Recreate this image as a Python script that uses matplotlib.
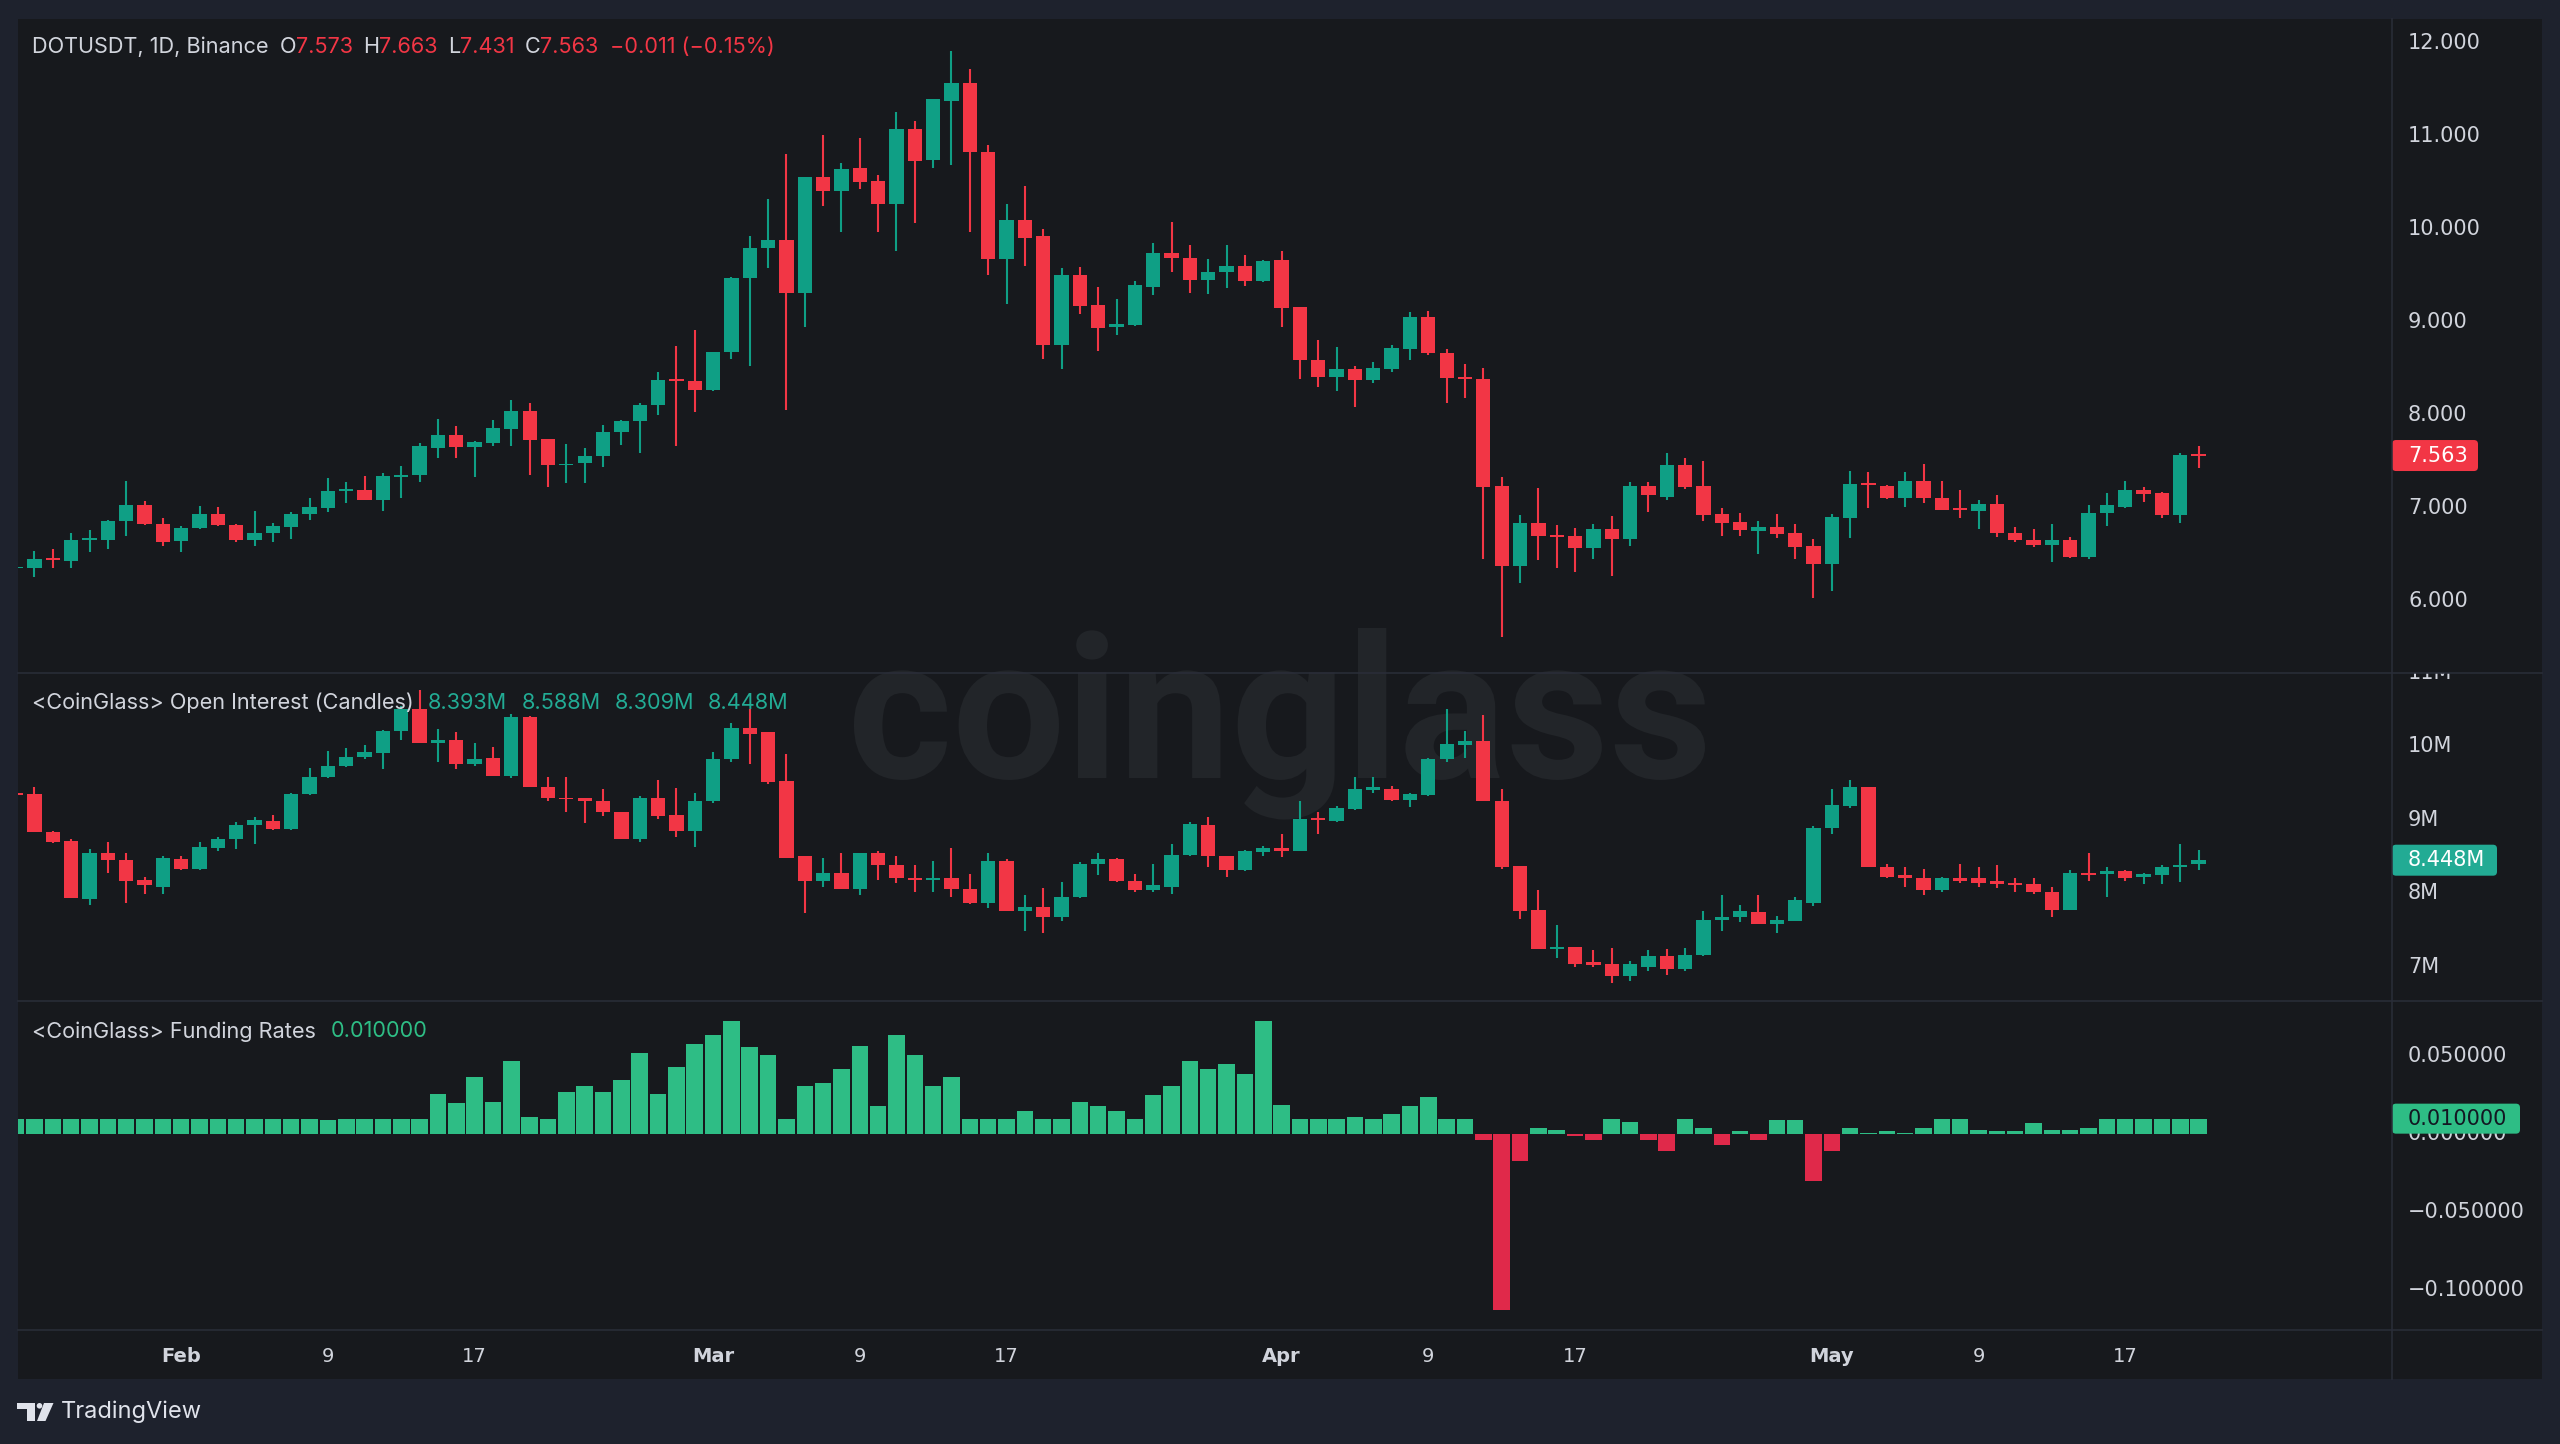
import matplotlib
matplotlib.use('Agg')
import matplotlib.pyplot as plt
import matplotlib.dates as mdates
import matplotlib.transforms as mtransforms
from matplotlib.patches import FancyBboxPatch, PathPatch, Polygon, Circle
from matplotlib.textpath import TextPath
from matplotlib.font_manager import FontProperties
from matplotlib.lines import Line2D
import numpy as np
import pandas as pd

# ---------------------------------------------------------------- data
dates = pd.date_range('2024-01-23', '2024-05-21', freq='D')

# DOTUSDT 1D candles: (open, high, low, close)
price_ohlc = [
    # Jan 23 - 31
    (6.35, 6.37, 6.33, 6.36), (6.35, 6.54, 6.26, 6.45), (6.46, 6.56, 6.35, 6.44),
    (6.43, 6.73, 6.36, 6.66), (6.66, 6.76, 6.53, 6.68), (6.66, 6.87, 6.56, 6.86),
    (6.86, 7.29, 6.70, 7.03), (7.03, 7.07, 6.82, 6.83), (6.83, 6.89, 6.59, 6.63),
    # Feb
    (6.64, 6.81, 6.53, 6.78), (6.78, 7.02, 6.77, 6.93), (6.93, 7.01, 6.81, 6.82),
    (6.82, 6.83, 6.63, 6.66), (6.66, 6.97, 6.59, 6.73), (6.73, 6.84, 6.63, 6.81),
    (6.80, 6.96, 6.67, 6.93), (6.93, 7.11, 6.87, 7.01), (7.00, 7.32, 6.96, 7.18),
    (7.18, 7.28, 7.05, 7.20), (7.19, 7.34, 7.09, 7.09), (7.09, 7.38, 6.97, 7.34),
    (7.33, 7.45, 7.11, 7.35), (7.35, 7.70, 7.28, 7.66), (7.64, 7.96, 7.54, 7.78),
    (7.78, 7.88, 7.54, 7.65), (7.65, 7.72, 7.33, 7.71), (7.70, 7.94, 7.66, 7.86),
    (7.85, 8.16, 7.66, 8.04), (8.04, 8.13, 7.35, 7.73), (7.74, 7.74, 7.23, 7.46),
    (7.46, 7.69, 7.27, 7.47), (7.48, 7.64, 7.27, 7.56), (7.56, 7.89, 7.44, 7.82),
    (7.82, 7.95, 7.68, 7.93), (7.93, 8.13, 7.59, 8.11), (8.11, 8.46, 8.00, 8.37),
    (8.38, 8.74, 7.67, 8.36), (8.36, 8.91, 8.03, 8.27),
    # Mar
    (8.27, 8.68, 8.26, 8.67), (8.67, 9.48, 8.60, 9.47), (9.47, 9.92, 8.53, 9.79),
    (9.79, 10.32, 9.58, 9.88), (9.88, 10.80, 8.05, 9.31), (9.31, 10.56, 8.94, 10.55),
    (10.55, 11.01, 10.24, 10.41), (10.41, 10.71, 9.96, 10.64), (10.65, 10.97, 10.43, 10.50),
    (10.51, 10.58, 9.96, 10.27), (10.27, 11.25, 9.76, 11.07), (11.07, 11.16, 10.06, 10.73),
    (10.74, 11.39, 10.65, 11.39), (11.37, 11.91, 10.68, 11.57), (11.56, 11.72, 9.96, 10.82),
    (10.82, 10.90, 9.50, 9.67), (9.67, 10.26, 9.19, 10.09), (10.09, 10.46, 9.60, 9.90),
    (9.92, 10.00, 8.60, 8.75), (8.75, 9.58, 8.49, 9.50), (9.50, 9.59, 9.08, 9.17),
    (9.18, 9.37, 8.69, 8.93), (8.94, 9.24, 8.86, 8.98), (8.97, 9.44, 8.95, 9.39),
    (9.37, 9.85, 9.29, 9.74), (9.74, 10.07, 9.53, 9.68), (9.69, 9.82, 9.31, 9.45),
    (9.45, 9.67, 9.30, 9.53), (9.53, 9.82, 9.36, 9.60), (9.60, 9.72, 9.38, 9.44),
    (9.44, 9.66, 9.43, 9.65),
    # Apr
    (9.66, 9.76, 8.94, 9.15), (9.16, 9.16, 8.38, 8.59), (8.59, 8.80, 8.30, 8.41),
    (8.41, 8.73, 8.26, 8.49), (8.49, 8.52, 8.08, 8.37), (8.37, 8.57, 8.34, 8.50),
    (8.49, 8.75, 8.46, 8.72), (8.71, 9.11, 8.59, 9.05), (9.05, 9.12, 8.64, 8.66),
    (8.66, 8.71, 8.13, 8.40), (8.41, 8.55, 8.18, 8.38), (8.38, 8.50, 6.45, 7.23),
    (7.24, 7.33, 5.61, 6.38), (6.38, 6.92, 6.19, 6.84), (6.84, 7.21, 6.44, 6.70),
    (6.70, 6.82, 6.36, 6.69), (6.70, 6.78, 6.31, 6.57), (6.57, 6.83, 6.45, 6.77),
    (6.77, 6.91, 6.27, 6.67), (6.67, 7.28, 6.59, 7.24), (7.24, 7.28, 6.96, 7.14),
    (7.12, 7.59, 7.09, 7.46), (7.46, 7.54, 7.20, 7.23), (7.24, 7.50, 6.86, 6.92),
    (6.93, 7.00, 6.70, 6.84), (6.85, 6.95, 6.70, 6.76), (6.75, 6.86, 6.50, 6.80),
    (6.80, 6.94, 6.68, 6.72), (6.73, 6.83, 6.45, 6.58), (6.59, 6.67, 6.03, 6.40),
    # May
    (6.40, 6.93, 6.11, 6.90), (6.89, 7.40, 6.68, 7.26), (7.26, 7.39, 7.00, 7.25),
    (7.24, 7.25, 7.10, 7.11), (7.11, 7.39, 7.01, 7.29), (7.29, 7.47, 7.05, 7.11),
    (7.11, 7.29, 6.98, 6.98), (6.99, 7.19, 6.89, 6.98), (6.97, 7.09, 6.77, 7.04),
    (7.04, 7.14, 6.69, 6.73), (6.73, 6.80, 6.63, 6.66), (6.66, 6.77, 6.58, 6.60),
    (6.60, 6.83, 6.42, 6.66), (6.66, 6.69, 6.46, 6.47), (6.47, 7.03, 6.45, 6.95),
    (6.95, 7.16, 6.81, 7.03), (7.01, 7.29, 7.00, 7.19), (7.19, 7.23, 7.06, 7.15),
    (7.16, 7.17, 6.89, 6.92), (6.92, 7.59, 6.84, 7.574), (7.573, 7.663, 7.431, 7.563),
]

# CoinGlass open interest candles, millions: (open, high, low, close)
oi_ohlc = [
    # Jan 23 - 31
    (9.35, 9.40, 9.32, 9.34), (9.35, 9.45, 8.83, 8.83), (8.83, 8.84, 8.68, 8.70),
    (8.71, 8.74, 7.94, 7.94), (7.92, 8.60, 7.84, 8.55), (8.54, 8.70, 8.27, 8.45),
    (8.45, 8.55, 7.86, 8.17), (8.18, 8.22, 7.99, 8.11), (8.09, 8.51, 7.99, 8.48),
    # Feb
    (8.47, 8.51, 8.32, 8.33), (8.33, 8.70, 8.32, 8.63), (8.61, 8.76, 8.57, 8.73),
    (8.73, 8.97, 8.60, 8.93), (8.93, 9.03, 8.67, 9.00), (8.98, 9.06, 8.86, 8.87),
    (8.87, 9.36, 8.86, 9.35), (9.35, 9.70, 9.33, 9.58), (9.58, 9.94, 9.57, 9.73),
    (9.73, 9.98, 9.72, 9.85), (9.85, 10.01, 9.82, 9.92), (9.91, 10.22, 9.69, 10.21),
    (10.21, 10.54, 10.09, 10.51), (10.51, 10.76, 10.04, 10.04), (10.04, 10.23, 9.79, 10.09),
    (10.09, 10.19, 9.69, 9.76), (9.76, 10.04, 9.73, 9.82), (9.84, 9.99, 9.60, 9.60),
    (9.60, 10.44, 9.56, 10.40), (10.40, 10.41, 9.45, 9.45), (9.45, 9.58, 9.25, 9.29),
    (9.30, 9.58, 9.10, 9.28), (9.29, 9.30, 8.95, 9.26), (9.26, 9.42, 9.05, 9.10),
    (9.11, 9.11, 8.73, 8.74), (8.74, 9.32, 8.70, 9.30), (9.30, 9.54, 9.01, 9.05),
    (9.06, 9.43, 8.76, 8.85), (8.85, 9.36, 8.63, 9.25),
    # Mar
    (9.25, 9.92, 9.23, 9.82), (9.82, 10.31, 9.78, 10.25), (10.25, 10.51, 9.76, 10.17),
    (10.19, 10.19, 9.48, 9.51), (9.52, 9.89, 8.48, 8.48), (8.50, 8.50, 7.73, 8.17),
    (8.17, 8.48, 8.08, 8.28), (8.28, 8.54, 8.05, 8.05), (8.05, 8.55, 7.98, 8.54),
    (8.54, 8.57, 8.18, 8.38), (8.38, 8.51, 8.14, 8.21), (8.21, 8.38, 8.01, 8.18),
    (8.18, 8.44, 8.01, 8.21), (8.21, 8.61, 7.95, 8.05), (8.05, 8.26, 7.85, 7.87),
    (7.87, 8.54, 7.80, 8.44), (8.44, 8.46, 7.75, 7.75), (7.75, 7.98, 7.49, 7.81),
    (7.81, 8.07, 7.46, 7.67), (7.67, 8.15, 7.62, 7.95), (7.95, 8.42, 7.93, 8.40),
    (8.40, 8.54, 8.24, 8.46), (8.46, 8.48, 8.15, 8.17), (8.17, 8.26, 8.02, 8.04),
    (8.04, 8.39, 8.02, 8.11), (8.09, 8.67, 7.99, 8.52), (8.52, 8.97, 8.50, 8.94),
    (8.93, 9.04, 8.36, 8.50), (8.51, 8.51, 8.22, 8.31), (8.31, 8.58, 8.30, 8.57),
    (8.56, 8.64, 8.50, 8.61),
    # Apr
    (8.61, 8.80, 8.49, 8.57), (8.57, 9.25, 8.57, 9.01), (9.01, 9.10, 8.80, 9.00),
    (8.98, 9.19, 8.97, 9.16), (9.14, 9.58, 9.13, 9.42), (9.40, 9.58, 9.36, 9.44),
    (9.42, 9.46, 9.26, 9.27), (9.27, 9.36, 9.17, 9.35), (9.33, 9.84, 9.32, 9.82),
    (9.82, 10.50, 9.79, 10.03), (10.02, 10.21, 9.84, 10.07), (10.07, 10.43, 9.25, 9.25),
    (9.26, 9.42, 8.33, 8.35), (8.37, 8.37, 7.65, 7.75), (7.77, 8.04, 7.24, 7.24),
    (7.24, 7.56, 7.12, 7.27), (7.27, 7.27, 6.99, 7.03), (7.06, 7.22, 7.00, 7.02),
    (7.03, 7.26, 6.78, 6.87), (6.87, 7.08, 6.80, 7.03), (7.00, 7.22, 6.94, 7.14),
    (7.14, 7.24, 6.89, 6.97), (6.97, 7.26, 6.94, 7.16), (7.16, 7.75, 7.14, 7.63),
    (7.63, 7.98, 7.49, 7.68), (7.67, 7.84, 7.61, 7.75), (7.74, 7.98, 7.58, 7.58),
    (7.58, 7.69, 7.46, 7.63), (7.62, 7.95, 7.62, 7.90), (7.87, 8.92, 7.83, 8.89),
    # May
    (8.89, 9.42, 8.80, 9.20), (9.19, 9.54, 9.16, 9.45), (9.45, 9.45, 8.35, 8.35),
    (8.36, 8.40, 8.21, 8.22), (8.24, 8.36, 8.08, 8.20), (8.20, 8.33, 7.98, 8.04),
    (8.04, 8.22, 8.01, 8.20), (8.21, 8.39, 8.14, 8.17), (8.20, 8.36, 8.09, 8.14),
    (8.17, 8.38, 8.07, 8.12), (8.14, 8.21, 8.01, 8.11), (8.12, 8.21, 7.99, 8.01),
    (8.02, 8.08, 7.68, 7.77), (7.77, 8.32, 7.77, 8.28), (8.28, 8.54, 8.17, 8.24),
    (8.26, 8.36, 7.95, 8.30), (8.30, 8.32, 8.17, 8.21), (8.22, 8.28, 8.12, 8.26),
    (8.24, 8.38, 8.12, 8.36), (8.36, 8.67, 8.15, 8.38), (8.393, 8.588, 8.309, 8.448),
]

# CoinGlass funding rate (%)
funding = [
    # Jan 23 - 31
    0.010, 0.010, 0.010, 0.010, 0.010, 0.010, 0.010, 0.010, 0.010,
    # Feb
    0.010, 0.010, 0.010, 0.010, 0.010, 0.010, 0.010, 0.010, 0.009, 0.010,
    0.010, 0.010, 0.010, 0.010, 0.026, 0.020, 0.037, 0.021, 0.047, 0.011,
    0.010, 0.027, 0.031, 0.027, 0.035, 0.052, 0.026, 0.043, 0.058,
    # Mar
    0.064, 0.073, 0.056, 0.051, 0.010, 0.031, 0.033, 0.042, 0.057, 0.018,
    0.064, 0.051, 0.031, 0.037, 0.010, 0.010, 0.010, 0.015, 0.010, 0.010,
    0.021, 0.018, 0.015, 0.010, 0.025, 0.031, 0.047, 0.042, 0.045, 0.039,
    0.073,
    # Apr
    0.019, 0.010, 0.010, 0.010, 0.011, 0.010, 0.013, 0.018, 0.024, 0.010,
    0.010, -0.004, -0.113, -0.017, 0.004, 0.003, -0.001, -0.004, 0.010, 0.008,
    -0.004, -0.011, 0.010, 0.004, -0.007, 0.002, -0.004, 0.009, 0.009, -0.030,
    # May
    -0.011, 0.004, 0.001, 0.002, 0.001, 0.004, 0.010, 0.010, 0.003, 0.002,
    0.002, 0.007, 0.003, 0.003, 0.004, 0.010, 0.010, 0.010, 0.010, 0.010,
    0.010,
]

price_ticks = [6, 7, 8, 9, 10, 11, 12]
oi_ticks = [7, 8, 9, 10, 11]
fr_ticks = [0.05, 0.0, -0.05, -0.1]
time_ticks = [('2024-02-01', 'Feb'), ('2024-02-09', '9'), ('2024-02-17', '17'),
              ('2024-03-01', 'Mar'), ('2024-03-09', '9'), ('2024-03-17', '17'),
              ('2024-04-01', 'Apr'), ('2024-04-09', '9'), ('2024-04-17', '17'),
              ('2024-05-01', 'May'), ('2024-05-09', '9'), ('2024-05-17', '17')]

# ---------------------------------------------------------------- style / layout (pixels)
W, H, DPI = 2560, 1444, 100
BG_OUT = '#1e222d'
BG = '#17191d'
SEP = '#2a2e39'
TXT = '#d1d4dc'
UP = '#0f9f85'
DOWN = '#f23645'
OI_TXT = '#22ab94'
FR_UP = '#2ebd85'
FR_DOWN = '#e0294a'
WM = '#222529'
HFONT = ['Inter', 'DejaVu Sans']
AFONT = ['DejaVu Sans']
HSIZE = 15.6

X0, XAX, X1 = 18.3, 2392.0, 2542.0
Y_TOP, Y_P, Y_OI, Y_FR, Y_BOT = 18.7, 672.5, 1000.5, 1330.0, 1379.0
FEB1_PX, PX_DAY = 181.2, 18.34


def rect(x0, y0, x1, y1):
    return [x0 / W, 1 - y1 / H, (x1 - x0) / W, (y1 - y0) / H]


fig = plt.figure(figsize=(W / DPI, H / DPI), dpi=DPI, facecolor=BG_OUT)

bg = fig.add_axes(rect(X0, Y_TOP, X1, Y_BOT))
bg.set_facecolor(BG)
bg.set_xticks([])
bg.set_yticks([])
for s in bg.spines.values():
    s.set_visible(False)

# watermark
fp = FontProperties(family='Roboto', weight='bold')
tp = TextPath((0, 0), 'coinglass', size=100, prop=fp)
ext = tp.get_extents()
lh = TextPath((0, 0), 'l', size=100, prop=fp).get_extents().y1
wm_tr = (mtransforms.Affine2D().translate(-ext.x0, 0)
         .scale((1705 - 854) / ext.width, 150 / lh).translate(854, H - 778))
bg.add_artist(PathPatch(tp, transform=wm_tr, fc=WM, ec='none', clip_on=False))

feb1 = mdates.date2num(pd.Timestamp('2024-02-01'))
XL = feb1 + (X0 - FEB1_PX) / PX_DAY
XR = feb1 + (XAX - FEB1_PX) / PX_DAY
x = mdates.date2num(dates)


def pane(y0, y1, ylim):
    ax = fig.add_axes(rect(X0, y0, XAX, y1))
    ax.set_facecolor('none')
    ax.set_xlim(XL, XR)
    ax.set_ylim(*ylim)
    ax.set_axis_off()
    strip = fig.add_axes(rect(XAX, y0, X1, y1), sharey=ax)
    strip.set_axis_off()
    return ax, strip


def candles(ax, ohlc, min_h):
    a = np.array(ohlc)
    o, h, l, c = a[:, 0], a[:, 1], a[:, 2], a[:, 3]
    cols = np.where(c >= o, UP, DOWN)
    ax.vlines(x, l, h, colors=cols, lw=1.5, zorder=2)
    ax.bar(x, np.maximum(np.abs(c - o), min_h), bottom=np.minimum(o, c),
           width=0.78, color=cols, linewidth=0, zorder=3)


def axis_labels(strip, ticks, fmt):
    tr = mtransforms.blended_transform_factory(strip.transAxes, strip.transData)
    for v in ticks:
        strip.text(16 / 150, v, fmt(v), transform=tr, va='center', ha='left',
                   color=TXT, fontsize=15, family=AFONT, clip_on=True)


def tag(strip, value, label, fc, tc, width, h=31):
    base = mtransforms.blended_transform_factory(strip.transAxes, strip.transData)
    tr = mtransforms.ScaledTranslation(0, value, base)
    strip.add_artist(FancyBboxPatch((0, -h / 2), width, h,
                                    boxstyle='round,pad=0,rounding_size=4',
                                    transform=tr, fc=fc, ec='none',
                                    clip_on=False, zorder=5))
    strip.text(16, 0, label, transform=tr, va='center', ha='left', color=tc,
               fontsize=15, family=AFONT, zorder=6, clip_on=False)


def minus(s):
    return s.replace('-', '\u2212')


# price pane
ax_p, st_p = pane(Y_TOP, Y_P, (5.232, 12.256))
candles(ax_p, price_ohlc, 0.016)
axis_labels(st_p, price_ticks, lambda v: f'{v:.3f}')
tag(st_p, price_ohlc[-1][3], f'{price_ohlc[-1][3]:.3f}', DOWN, '#ffffff', 86)

# open interest pane
ax_o, st_o = pane(Y_P + 0.5, Y_OI, (6.539, 10.995))
candles(ax_o, oi_ohlc, 0.02)
axis_labels(st_o, oi_ticks, lambda v: f'{v:.0f}M')
tag(st_o, oi_ohlc[-1][3], f'{oi_ohlc[-1][3]:.3f}M', OI_TXT, '#ffffff', 105)

# funding pane
ax_f, st_f = pane(Y_OI + 0.5, Y_FR, (-0.1258, 0.0856))
fr = np.array(funding)
ax_f.bar(x, fr, width=0.9, color=np.where(fr >= 0, FR_UP, FR_DOWN), linewidth=0)
axis_labels(st_f, fr_ticks, lambda v: minus(f'{v:.6f}') if v != 0 else '0.000000')
tag(st_f, funding[-1], f'{funding[-1]:.6f}', FR_UP, '#131722', 128, h=30)

# time axis
ax_t = fig.add_axes(rect(X0, Y_FR, XAX, Y_BOT))
ax_t.set_facecolor('none')
ax_t.set_xlim(XL, XR)
ax_t.set_axis_off()
ttr = mtransforms.blended_transform_factory(ax_t.transData, ax_t.transAxes)
for d, lab in time_ticks:
    ax_t.text(mdates.date2num(pd.Timestamp(d)), 0.455, lab, transform=ttr,
              ha='center', va='center', color=TXT, fontsize=14, family=AFONT,
              fontweight='bold' if lab.isalpha() else 'normal')

# ---------------------------------------------------------------- overlay: separators, legends, logo
top = fig.add_axes([0, 0, 1, 1])
top.set_axis_off()
top.set_xlim(0, 1)
top.set_ylim(0, 1)

for yy in (Y_P, Y_OI, Y_FR):
    top.add_line(Line2D([X0 / W, X1 / W], [1 - yy / H, 1 - yy / H], color=SEP, lw=1.1))
top.add_line(Line2D([XAX / W, XAX / W], [1 - Y_TOP / H, 1 - Y_BOT / H], color=SEP, lw=1.1))


def legend(x_px, y_px, pieces, size=HSIZE):
    s0, c0 = pieces[0][:2]
    prev = top.text(x_px / W, 1 - y_px / H, s0, color=c0, fontsize=size,
                    va='center', ha='left', family=HFONT)
    for s, col, gap in pieces[1:]:
        prev = top.annotate(s, xy=(1, 0.5), xycoords=prev, xytext=(gap, 0),
                            textcoords='offset pixels', va='center', ha='left',
                            color=col, fontsize=size, family=HFONT,
                            annotation_clip=False)


po, ph, pl, pc = price_ohlc[-1]
prev_close = price_ohlc[-2][3]
chg = pc - prev_close
legend(32.4, 46.8, [
    ('DOTUSDT, 1D, Binance', TXT, 0),
    ('O', TXT, 11), (f'{po:.3f}', DOWN, 0),
    ('H', TXT, 10), (f'{ph:.3f}', DOWN, 0),
    ('L', TXT, 10), (f'{pl:.3f}', DOWN, 0),
    ('C', TXT, 10), (f'{pc:.3f}', DOWN, 0),
    (minus(f'{chg:.3f} ({chg / prev_close * 100:.2f}%)'), DOWN, 11),
])

oo, oh, ol, oc = oi_ohlc[-1]
legend(32.4, 703.2, [
    ('<CoinGlass> Open Interest (Candles)', TXT, 0),
    (f'{oo:.3f}M', OI_TXT, 14), (f'{oh:.3f}M', OI_TXT, 14),
    (f'{ol:.3f}M', OI_TXT, 14), (f'{oc:.3f}M', OI_TXT, 14),
])

legend(32.4, 1031.4, [
    ('<CoinGlass> Funding Rates', TXT, 0),
    (f'{funding[-1]:.6f}', FR_UP, 14),
])

# TradingView logo
idt = mtransforms.IdentityTransform()
logo_col = '#e0e3eb'
top.add_patch(Polygon([(17, H - 1403), (35, H - 1403), (35, H - 1421), (27, H - 1421),
                       (27, H - 1408.5), (17, H - 1408.5)], closed=True,
                      fc=logo_col, ec='none', transform=idt))
top.add_patch(Circle((39.5, H - 1405.8), 2.8, fc=logo_col, ec='none', transform=idt))
top.add_patch(Polygon([(44, H - 1403), (53.5, H - 1403), (45.5, H - 1421), (37, H - 1421)],
                      closed=True, fc=logo_col, ec='none', transform=idt))
top.text(61 / W, 1 - 1412 / H, 'TradingView', color=logo_col, fontsize=17,
         family=HFONT, va='center', ha='left')

fig.savefig('out.png', dpi=DPI, facecolor=fig.get_facecolor())
